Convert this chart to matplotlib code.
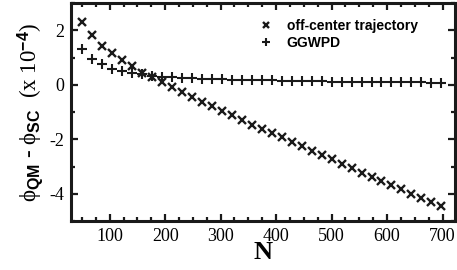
import matplotlib
matplotlib.use("Agg")
import matplotlib.pyplot as plt
from matplotlib.ticker import MultipleLocator

# N values (same grid for both series)
N = [50, 68, 86, 104, 122, 140, 158, 176, 194, 212, 230, 248, 266, 284,
     302, 320, 338, 356, 374, 392, 410, 428, 446, 464, 482, 500, 518, 536,
     554, 572, 590, 608, 626, 644, 662, 680, 698]

# phi_QM - phi_SC (x 1e-4)
off_center = [2.32, 1.81, 1.44, 1.16, 0.90, 0.69, 0.45, 0.29, 0.09, -0.09,
              -0.27, -0.44, -0.62, -0.78, -0.96, -1.12, -1.28, -1.46, -1.62,
              -1.77, -1.93, -2.08, -2.25, -2.41, -2.58, -2.74, -2.90, -3.05,
              -3.22, -3.38, -3.53, -3.68, -3.84, -4.00, -4.15, -4.30, -4.46]
ggwpd = [1.32, 0.96, 0.76, 0.59, 0.50, 0.44, 0.38, 0.32, 0.29, 0.27,
         0.25, 0.24, 0.22, 0.21, 0.20, 0.19, 0.18, 0.17, 0.16, 0.16,
         0.15, 0.14, 0.14, 0.13, 0.13, 0.12, 0.12, 0.11, 0.11, 0.10,
         0.10, 0.10, 0.09, 0.09, 0.09, 0.08, 0.08]

plt.rcParams["font.family"] = "Liberation Serif"
plt.rcParams["axes.unicode_minus"] = False
plt.rcParams["mathtext.fontset"] = "custom"
plt.rcParams["mathtext.rm"] = "Liberation Serif"
plt.rcParams["mathtext.it"] = "Liberation Serif:italic"
plt.rcParams["mathtext.bf"] = "Liberation Sans:bold"
plt.rcParams["mathtext.sf"] = "Liberation Sans:bold"

fig = plt.figure(figsize=(4.57, 2.70), dpi=100)
ax = fig.add_axes([0.155, 0.181, 0.840, 0.808])

ink = "#1a1a1a"
ax.plot(N, off_center, ls="none", marker="x", ms=5.5, mew=1.7, color=ink,
        label="off-center trajectory")
ax.plot(N, ggwpd, ls="none", marker="+", ms=7, mew=1.5, color=ink,
        label="GGWPD")

ax.set_xlim(30, 722)
ax.set_ylim(-5, 3)
ax.set_xticks([100, 200, 300, 400, 500, 600, 700])
ax.xaxis.set_minor_locator(MultipleLocator(25))
ax.yaxis.set_major_locator(MultipleLocator(2))
ax.yaxis.set_minor_locator(MultipleLocator(1))

ax.tick_params(which="both", direction="in", top=True, right=True,
               width=1.6, color=ink)
ax.tick_params(which="major", length=5, labelsize=13, pad=5)
ax.tick_params(which="minor", length=3)
for sp in ax.spines.values():
    sp.set_linewidth(2.2)
    sp.set_color(ink)

ax.set_xlabel("N", fontweight="bold", fontsize=19, labelpad=-3)
ax.set_ylabel(r"$\mathrm{\phi}_{\mathsf{QM}}$ - $\mathrm{\phi}_{\mathsf{SC}}$"
              r"  (x 10$^{\mathsf{-4}}$)", fontsize=16.5, labelpad=3)

leg = ax.legend(loc="upper right", frameon=False, handlelength=1.0,
                handletextpad=1.0, borderaxespad=0.6, labelspacing=0.2,
                bbox_to_anchor=(0.94, 0.99), markerscale=0.8,
                prop={"family": "Liberation Sans", "weight": "bold", "size": 10})

fig.savefig("out.png", dpi=100)
